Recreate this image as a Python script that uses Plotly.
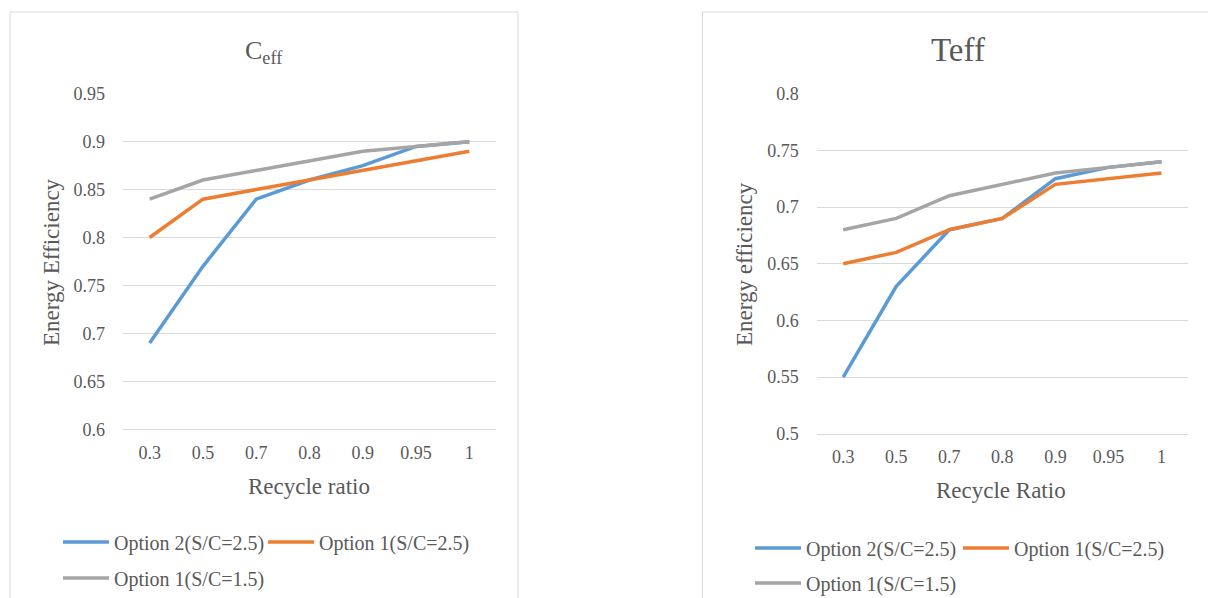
import plotly.graph_objects as go

# ---------------- data ----------------
recycle_ratio = ["0.3", "0.5", "0.7", "0.8", "0.9", "0.95", "1"]
series_names = ["Option 2(S/C=2.5)", "Option 1(S/C=2.5)", "Option 1(S/C=1.5)"]

ceff_opt2_sc25 = [0.69, 0.77, 0.84, 0.86, 0.875, 0.895, 0.90]
ceff_opt1_sc25 = [0.80, 0.84, 0.85, 0.86, 0.87, 0.88, 0.89]
ceff_opt1_sc15 = [0.84, 0.86, 0.87, 0.88, 0.89, 0.895, 0.90]

teff_opt2_sc25 = [0.55, 0.63, 0.68, 0.69, 0.725, 0.735, 0.74]
teff_opt1_sc25 = [0.65, 0.66, 0.68, 0.69, 0.72, 0.725, 0.73]
teff_opt1_sc15 = [0.68, 0.69, 0.71, 0.72, 0.73, 0.735, 0.74]

ceff_tickvals = [0.6, 0.65, 0.7, 0.75, 0.8, 0.85, 0.9, 0.95]
ceff_ticktext = ["0.6", "0.65", "0.7", "0.75", "0.8", "0.85", "0.9", "0.95"]
teff_tickvals = [0.5, 0.55, 0.6, 0.65, 0.7, 0.75, 0.8]
teff_ticktext = ["0.5", "0.55", "0.6", "0.65", "0.7", "0.75", "0.8"]

colors = ["#5B9BD5", "#ED7D31", "#A5A5A5"]

# ---------------- layout helpers ----------------
W, H = 1208, 598
FONT = "Liberation Serif"
TXT = "#595959"
GRID = "#D9D9D9"


def fx(px):
    return px / W


def fy(py):
    return 1 - py / H


fig = go.Figure()

left_series = [ceff_opt2_sc25, ceff_opt1_sc25, ceff_opt1_sc15]
right_series = [teff_opt2_sc25, teff_opt1_sc25, teff_opt1_sc15]

for i, (name, vals) in enumerate(zip(series_names, left_series)):
    fig.add_trace(go.Scatter(
        x=recycle_ratio, y=vals, name=name, mode="lines",
        line=dict(color=colors[i], width=3.5),
        xaxis="x", yaxis="y", showlegend=True,
        legend="legend" if i == 0 else "legend%d" % (i + 1),
    ))

for i, (name, vals) in enumerate(zip(series_names, right_series)):
    fig.add_trace(go.Scatter(
        x=recycle_ratio, y=vals, name=name, mode="lines",
        line=dict(color=colors[i], width=3.5),
        xaxis="x2", yaxis="y2", showlegend=True,
        legend="legend%d" % (i + 4),
    ))

xcommon = dict(type="category", range=[-0.5, 6.5], showgrid=False,
               showline=True, linecolor=GRID, linewidth=1, ticks="",
               tickfont=dict(family=FONT, size=18, color=TXT),
               ticklabelstandoff=7, zeroline=False, fixedrange=True)
ycommon = dict(showgrid=True, gridcolor=GRID, gridwidth=1, showline=False,
               zeroline=False, ticks="", ticklabelstandoff=17,
               tickfont=dict(family=FONT, size=18, color=TXT), fixedrange=True)

legend_base = dict(orientation="h", xanchor="left", yanchor="middle",
                   bgcolor="rgba(0,0,0,0)", borderwidth=0, itemwidth=46,
                   font=dict(family=FONT, size=20, color=TXT))

legend_pos = {
    "legend": (63, 542), "legend2": (268, 542), "legend3": (63, 578),
    "legend4": (755, 548), "legend5": (963, 548), "legend6": (755, 583),
}
legends = {}
for k, (lx, ly) in legend_pos.items():
    d = dict(legend_base)
    d["x"] = fx(lx - 5)
    d["y"] = fy(ly)
    legends[k] = d

fig.update_layout(
    width=W, height=H, margin=dict(l=0, r=0, t=0, b=0, autoexpand=False),
    showlegend=True,
    paper_bgcolor="white", plot_bgcolor="white",
    xaxis=dict(xcommon, domain=[fx(123), fx(496)], anchor="y"),
    yaxis=dict(ycommon, domain=[fy(429.3), fy(93.7)], anchor="x",
               range=[0.6, 0.95], tickvals=ceff_tickvals, ticktext=ceff_ticktext),
    xaxis2=dict(xcommon, domain=[fx(816.7), fx(1188)], anchor="y2"),
    yaxis2=dict(ycommon, domain=[fy(433.7), fy(93.7)], anchor="x2",
                range=[0.5, 0.8], tickvals=teff_tickvals, ticktext=teff_ticktext),
    **legends,
    shapes=[
        dict(type="rect", xref="paper", yref="paper", x0=fx(10), x1=fx(518),
             y0=-0.2, y1=fy(12), line=dict(color=GRID, width=1), layer="below"),
        dict(type="rect", xref="paper", yref="paper", x0=fx(702.5), x1=1.2,
             y0=-0.2, y1=fy(12), line=dict(color=GRID, width=1), layer="below"),
    ],
    annotations=[
        dict(text="C<sub>eff</sub>", x=fx(264), y=fy(52), xref="paper", yref="paper",
             showarrow=False, xanchor="center", yanchor="middle",
             font=dict(family=FONT, size=26, color=TXT)),
        dict(text="Teff", x=fx(958), y=fy(50), xref="paper", yref="paper",
             showarrow=False, xanchor="center", yanchor="middle",
             font=dict(family=FONT, size=33, color=TXT)),
        dict(text="Recycle ratio", x=fx(309), y=fy(486), xref="paper", yref="paper",
             showarrow=False, xanchor="center", yanchor="middle",
             font=dict(family=FONT, size=23, color=TXT)),
        dict(text="Recycle Ratio", x=fx(1001), y=fy(490), xref="paper", yref="paper",
             showarrow=False, xanchor="center", yanchor="middle",
             font=dict(family=FONT, size=23, color=TXT)),
        dict(text="Energy Efficiency", x=fx(52), y=fy(262), xref="paper", yref="paper",
             showarrow=False, xanchor="center", yanchor="middle", textangle=-90,
             font=dict(family=FONT, size=23, color=TXT)),
        dict(text="Energy efficiency", x=fx(745), y=fy(264), xref="paper", yref="paper",
             showarrow=False, xanchor="center", yanchor="middle", textangle=-90,
             font=dict(family=FONT, size=23, color=TXT)),
    ],
)

fig.write_html("out.html")
